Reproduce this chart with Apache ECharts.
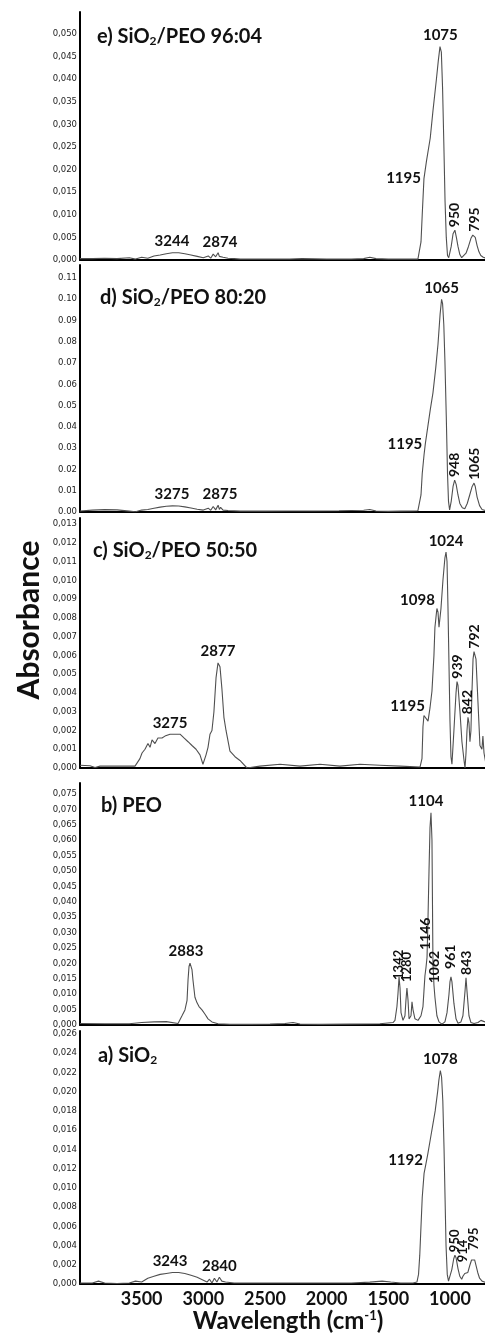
<!DOCTYPE html>
<html><head><meta charset="utf-8">
<script src="https://cdn.jsdelivr.net/npm/echarts@6/dist/echarts.min.js"></script>
<style>html,body{margin:0;padding:0;background:#fff}#c{width:485px;height:1336px}</style>
</head><body><div id="c"></div>
<script>
// ---------- DATA (wavenumber cm-1, absorbance) ----------
const X_TICKS = [3500, 3000, 2500, 2000, 1500, 1000];

// e) SiO2/PEO 96:04
const WN_E = [4000,3900,3800,3700,3600,3550,3500,3450,3400,3350,3300,3250,3200,3150,3100,3050,3000,2960,2940,2920,2900,2880,2870,2860,2840,2800,2750,2700,2600,2500,2400,2300,2200,2000,1800,1700,1650,1600,1500,1400,1300,1260,1245,1235,1225,1211,1190,1160,1138,1110,1095,1081,1070,1060,1050,1040,1030,1020,1010,990,975,960,948,935,920,905,890,870,850,830,815,805,795,780,765,750,730,710];
const ABS_E = [0.0003,0.0003,0.0004,0.0003,0.0005,0.0002,0.0006,0.0004,0.0009,0.0011,0.0014,0.0016,0.0016,0.0014,0.0011,0.0008,0.0005,0.0009,0.0004,0.0013,0.0007,0.0016,0.0008,0.0012,0.0006,0.0004,0.0003,0.0002,0.0002,0.0002,0.0002,0.0002,0.0003,0.0002,0.0002,0.0003,0.0006,0.0003,0.0002,0.0002,0.0002,0.0002,0.0004,0.004,0.010,0.018,0.022,0.027,0.033,0.040,0.044,0.0472,0.046,0.038,0.026,0.013,0.005,0.001,0.0005,0.003,0.0058,0.0066,0.005,0.003,0.0012,0.0005,0.0006,0.0015,0.003,0.0048,0.0055,0.0056,0.005,0.0032,0.0018,0.001,0.0006,0.0004];
const PEAKS_E = [[1078,0.0472,'1075'],[1211,0.018,'1195'],[960,0.0066,'950'],[805,0.0056,'795'],[3254,0.0016,'3244'],[2865,0.0016,'2874']];

// d) SiO2/PEO 80:20
const WN_D = [4000,3900,3800,3700,3600,3550,3500,3450,3400,3350,3300,3250,3200,3150,3100,3050,3000,2960,2940,2920,2900,2880,2870,2860,2840,2800,2700,2500,2300,2100,1900,1800,1700,1650,1600,1500,1400,1300,1260,1245,1235,1225,1210,1200,1180,1160,1138,1115,1097,1080,1068,1060,1050,1041,1030,1020,1012,1003,990,975,962,950,935,920,900,880,860,840,820,805,795,780,760,740,720,700];
const ABS_D = [0.0005,0.0009,0.0011,0.001,0.0004,0.0001,0.0009,0.0012,0.0018,0.0023,0.0027,0.0029,0.0028,0.0024,0.0019,0.0013,0.0009,0.0018,0.0008,0.0026,0.001,0.0032,0.0012,0.0022,0.0009,0.0007,0.0004,0.0004,0.0005,0.0005,0.0006,0.0007,0.0008,0.0012,0.0005,0.0003,0.0004,0.0005,0.0006,0.001,0.008,0.018,0.027,0.032,0.040,0.048,0.056,0.068,0.079,0.093,0.100,0.098,0.088,0.071,0.045,0.018,0.005,0.001,0.005,0.012,0.015,0.013,0.008,0.004,0.002,0.0015,0.004,0.008,0.012,0.0136,0.012,0.007,0.003,0.0012,0.0008,0.0006];
const PEAKS_D = [[1068,0.100,'1065'],[1200,0.032,'1195'],[962,0.015,'948'],[805,0.0136,'1065'],[3254,0.0029,'3275'],[2865,0.0032,'2875']];

// c) SiO2/PEO 50:50
const WN_C = [4000,3919,3878,3838,3676,3554,3514,3497,3473,3449,3432,3416,3392,3368,3335,3311,3270,3230,3189,3157,3124,3092,3059,3027,3003,2978,2962,2946,2930,2914,2897,2881,2865,2849,2833,2816,2784,2743,2703,2646,2541,2378,2216,2054,1892,1730,1568,1405,1243,1227,1219,1211,1195,1178,1162,1146,1130,1122,1114,1106,1097,1089,1073,1057,1041,1032,1024,1016,1008,1000,992,984,968,951,943,935,919,903,886,878,870,862,854,846,838,830,822,813,805,789,773,757,741,733,724,708];
const ABS_C = [0.00015,0.00012,0.00003,0.0001,0.0001,0.0001,0.0005,0.0008,0.0010,0.0013,0.0011,0.0015,0.0013,0.0016,0.0016,0.0017,0.0018,0.0018,0.0018,0.0016,0.0014,0.0012,0.0010,0.0007,0.0002,0.0007,0.0011,0.0018,0.0020,0.0030,0.0048,0.0056,0.0054,0.0042,0.0027,0.0020,0.0009,0.0006,0.0004,0.0000,0.0001,0.0002,0.0001,0.0002,0.0001,0.0002,0.00015,0.0001,0.00005,0.0005,0.0022,0.0028,0.0027,0.0025,0.0032,0.0041,0.0060,0.0075,0.0080,0.0085,0.0083,0.0075,0.0085,0.0100,0.0112,0.0115,0.0110,0.0085,0.0055,0.0025,0.0006,0.0002,0.0020,0.0040,0.0046,0.0044,0.0030,0.0014,0.0004,0.0000,0.0008,0.0020,0.0027,0.0024,0.0014,0.0020,0.0040,0.0058,0.0062,0.0058,0.0035,0.0012,0.0010,0.0017,0.0008,0.0002];
const PEAKS_C = [[1032,0.0115,'1024'],[1106,0.0085,'1098'],[1211,0.0028,'1195'],[943,0.0046,'939'],[854,0.0027,'842'],[805,0.0062,'792'],[3270,0.0018,'3275'],[2881,0.0056,'2877']];

// b) PEO
const WN_B = [4000,3800,3600,3500,3400,3300,3205,3173,3149,3132,3124,3116,3108,3100,3092,3084,3068,3051,3035,3011,2986,2962,2930,2881,2784,2622,2459,2338,2273,2216,2054,1811,1568,1462,1446,1430,1422,1413,1405,1397,1381,1365,1357,1349,1340,1332,1316,1308,1300,1284,1259,1235,1219,1211,1203,1195,1186,1178,1170,1162,1154,1146,1138,1130,1122,1114,1106,1089,1065,1041,1024,1008,1000,992,984,968,951,935,911,895,878,870,862,846,830,805,773,749,733,716];
const ABS_B = [0.0005,0.0004,0.0004,0.0008,0.0010,0.0011,0.0005,0.0030,0.0049,0.0080,0.0146,0.0190,0.0201,0.0200,0.0180,0.0146,0.0090,0.0072,0.0060,0.0049,0.0035,0.0020,0.0010,0.0004,0.0002,0.0002,0.0003,0.0005,0.0008,0.0003,0.0002,0.0003,0.0004,0.0008,0.0015,0.0060,0.0100,0.0156,0.0120,0.0040,0.0015,0.0030,0.0080,0.0120,0.0080,0.0020,0.0030,0.0075,0.0050,0.0020,0.0015,0.0030,0.0060,0.0110,0.0160,0.0185,0.0220,0.0350,0.0500,0.0640,0.0689,0.0600,0.0200,0.0130,0.0090,0.0060,0.0030,0.0010,0.0003,0.0010,0.0040,0.0100,0.0140,0.0156,0.0140,0.0070,0.0020,0.0006,0.0010,0.0030,0.0110,0.0153,0.0110,0.0030,0.0008,0.0005,0.0008,0.0015,0.0020,0.0010];
const PEAKS_B = [[1154,0.0689,'1104'],[1413,0.0156,'1342'],[1349,0.012,'1280'],[1195,0.0185,'1146'],[1122,0.009,'1062'],[992,0.0156,'961'],[870,0.0153,'843'],[3108,0.0201,'2883']];

// a) SiO2
const WN_A = [4000,3900,3850,3800,3700,3600,3550,3500,3450,3400,3350,3300,3250,3200,3150,3100,3050,3000,2970,2950,2930,2910,2890,2870,2850,2820,2750,2600,2400,2200,2000,1800,1650,1550,1480,1400,1300,1268,1255,1245,1235,1225,1210,1195,1180,1160,1140,1120,1100,1090,1078,1068,1058,1048,1040,1032,1022,1012,1000,985,970,960,950,935,920,905,895,880,870,855,840,825,810,800,790,775,760,740,720,700];
const ABS_A = [0.0001,0.0001,0.0003,0.0001,0.00005,0.0001,0.0003,0.0002,0.0006,0.0008,0.0010,0.0011,0.0012,0.0012,0.0011,0.0009,0.0007,0.0004,0.0002,0.0005,0.0001,0.0006,0.0002,0.0007,0.0003,0.0002,0.0001,0.0001,0.0001,0.0001,0.0001,0.0001,0.0002,0.0003,0.0002,0.0001,0.0001,0.0002,0.001,0.003,0.006,0.009,0.0115,0.0125,0.0135,0.015,0.0165,0.018,0.020,0.0212,0.0222,0.0215,0.019,0.014,0.009,0.004,0.001,0.0003,0.0005,0.0015,0.0026,0.003,0.0027,0.0016,0.0008,0.0005,0.0008,0.0011,0.0009,0.0012,0.0019,0.0025,0.0027,0.0025,0.002,0.0012,0.0006,0.0003,0.0002,0.0002];
const PEAKS_A = [[1078,0.0222,'1078'],[1195,0.0129,'1192'],[960,0.003,'950'],[895,0.0008,'914'],[810,0.0027,'795'],[3270,0.0012,'3243'],[2870,0.0007,'2840']];

// ---------- LAYOUT ----------
// label placement per peak (t = above, l = left, r = rotated), with optional fine tweaks
const PANELS = [
  {wn:WN_E, abs:ABS_E, peaks:PEAKS_E, max:0.05487, step:0.005, dec:3, sep:',', top:12, bottom:260, title:['e) SiO','2','/PEO 96:04'], tx:92, ty:20,
   modes:['t','l','r','r','t','t'], tweak:{5:{distance:3}}},
  {wn:WN_D, abs:ABS_D, peaks:PEAKS_D, max:0.1161, step:0.01, dec:2, sep:'.', top:265, bottom:512, title:['d) SiO','2','/PEO 80:20'], tx:95, ty:281,
   modes:['t','l','r','r','t','t'], tweak:{}},
  {wn:WN_C, abs:ABS_C, peaks:PEAKS_C, max:0.01332, step:0.001, dec:3, sep:',', top:518, bottom:768, title:['c) SiO','2','/PEO 50:50'], tx:88, ty:534,
   modes:['t','l','l','r','r','r','t','t'], tweak:{1:{offset:[1,-8]}, 2:{offset:[4,-9]}}},
  {wn:WN_B, abs:ABS_B, peaks:PEAKS_B, max:0.07857, step:0.005, dec:3, sep:',', top:783, bottom:1025, title:['b) PEO','',''], tx:96, ty:789,
   modes:['t','r','r','r','r','r','r','t'],
   tweak:{0:{offset:[-5,0]}, 1:{offset:[-6,0], fontSize:13}, 2:{offset:[3,0], fontSize:13}, 3:{distance:22, offset:[-4,0]}, 4:{distance:9, offset:[5,0]}, 5:{distance:8}, 7:{offset:[-4,0]}}},
  {wn:WN_A, abs:ABS_A, peaks:PEAKS_A, max:0.02631, step:0.002, dec:3, sep:',', top:1031, bottom:1284, title:['a) SiO','2',''], tx:93, ty:1039,
   modes:['t','l','r','r','r','t','t'], tweak:{2:{fontSize:13}, 3:{distance:10, offset:[4,0], fontSize:13}, 4:{offset:[5,0], fontSize:13}}}
];

const FONT = 'Lato';
const labelBase = {show:true, fontFamily:FONT, fontWeight:'bold', fontSize:15, color:'#111'};
function labelFor(mode){
  if(mode==='l') return {position:'left', distance:3};
  if(mode==='r') return {position:'top', rotate:90, align:'left', verticalAlign:'middle', distance:3, fontSize:14};
  return {position:'top', distance:4};
}

const grid=[], xAxis=[], yAxis=[], series=[], title=[];
PANELS.forEach((p,i)=>{
  grid.push({left:80, right:0, top:p.top, height:p.bottom-p.top});
  const last = i===PANELS.length-1;
  xAxis.push({type:'value', gridIndex:i, min:716, max:4000, inverse:true,
    axisLine:{onZero:false, lineStyle:{color:'#000', width:2}}, axisTick:{show:false}, splitLine:{show:false},
    axisLabel: last ? {show:true, customValues:X_TICKS, formatter:v=>String(v),
      fontFamily:FONT, fontWeight:'bold', fontSize:18, color:'#111', margin:6} : {show:false}});
  yAxis.push({type:'value', gridIndex:i, min:0, max:p.max, interval:p.step,
    axisLine:{show:true, lineStyle:{color:'#000', width:2}}, axisTick:{show:false}, splitLine:{show:false},
    axisLabel:{showMaxLabel:false, fontFamily:'DejaVu Sans', fontSize:8.5, color:'#222', margin:3,
      formatter:v=>v.toFixed(p.dec).replace('.', p.sep)}});
  const data = p.wn.map((w,k)=>[w, p.abs[k]]);
  series.push({type:'line', xAxisIndex:i, yAxisIndex:i, data, showSymbol:false, symbol:'none',
    lineStyle:{color:'#505050', width:1.1}, animation:false, silent:true,
    markPoint:{symbol:'circle', symbolSize:0, silent:true, animation:false,
      data:p.peaks.map(([w,v,t],k)=>({coord:[w,v], value:t,
        label:Object.assign({}, labelBase, labelFor(p.modes[k]), p.tweak[k]||{}, {formatter:t})}))}});
  title.push({left:p.tx, top:p.ty, text:'{a|'+p.title[0]+'}'+(p.title[1]?'{s|'+p.title[1]+'}':'')+(p.title[2]?'{a|'+p.title[2]+'}':''),
    textStyle:{rich:{
      a:{fontFamily:FONT, fontWeight:'bold', fontSize:20, color:'#111', lineHeight:22, verticalAlign:'bottom'},
      s:{fontFamily:FONT, fontWeight:'bold', fontSize:12, color:'#111', lineHeight:8, verticalAlign:'bottom'}}}});
});

const chart = echarts.init(document.getElementById('c'), null, {renderer:'canvas'});
chart.setOption({
  animation:false, backgroundColor:'#fff',
  grid, xAxis, yAxis, series, title,
  graphic:[
    {type:'text', x:29, y:620, rotation:Math.PI/2,
     style:{text:'Absorbance', font:'bold 30px Lato', fill:'#111', align:'center', verticalAlign:'middle'}},
    {type:'text', x:288, y:1322,
     style:{text:'{a|Wavelength (cm}{s|-1}{a|)}', align:'center', verticalAlign:'middle',
       rich:{a:{fontFamily:FONT, fontWeight:'bold', fontSize:24, fill:'#111', lineHeight:26, verticalAlign:'top'},
             s:{fontFamily:FONT, fontWeight:'bold', fontSize:13, fill:'#111', lineHeight:19, verticalAlign:'top'}}}}
  ]
});
</script></body></html>
